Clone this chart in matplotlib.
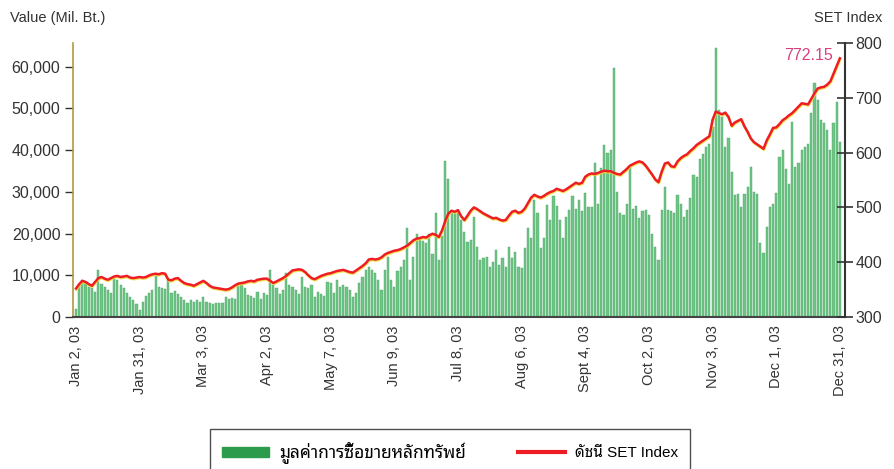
import numpy as np
import matplotlib
matplotlib.use("Agg")
import matplotlib.pyplot as plt
import matplotlib.patheffects as pe
import matplotlib.transforms as mtransforms
from matplotlib.patches import Patch
from matplotlib.lines import Line2D
from matplotlib.ticker import FuncFormatter, FixedLocator

# ---- data (daily, 2003) ----
tick_labels = ["Jan 2, 03", "Jan 31, 03", "Mar 3, 03", "Apr 2, 03", "May 7, 03",
               "Jun 9, 03", "Jul 8, 03", "Aug 6, 03", "Sept 4, 03", "Oct 2, 03",
               "Nov 3, 03", "Dec 1, 03", "Dec 31, 03"]

# trading value, Mil. Bt.
value = [
    2000, 7700, 8900, 8300, 7300, 6900, 6100, 11300, 8000, 7300,
    6500, 5800, 9300, 8800, 7600, 6900, 5700, 4900, 4100, 3000,
    1700, 3500, 5000, 5800, 6500, 10000, 7200, 6900, 6600, 8900,
    5700, 6300, 5400, 4900, 4100, 3300, 4100, 3700, 4000, 3600,
    4900, 3500, 3300, 3200, 3400, 3300, 3400, 4900, 4400, 4600,
    4300, 7700, 8100, 7000, 5300, 5000, 4600, 5900, 4400, 5800,
    5300, 11300, 7700, 7000, 5500, 6500, 10500, 7700, 7300, 6500,
    5500, 9700, 7300, 7000, 7700, 4700, 6000, 5500, 5000, 8500,
    8100, 5700, 8900, 7300, 7700, 7100, 6400, 4900, 5700, 8100,
    9700, 11300, 12000, 11300, 10500, 8900, 6500, 11300, 14500, 8900,
    7300, 11000, 12000, 13700, 21300, 8900, 14500, 20000, 18600, 18200,
    17800, 20000, 15200, 25000, 13700, 19500, 37500, 33000, 25000, 25000,
    25700, 23300, 20500, 17900, 18500, 24000, 16700, 13700, 14200, 14500,
    12000, 13200, 16000, 12500, 14200, 12000, 16900, 14200, 15500, 12000,
    11700, 16500, 21300, 18900, 28000, 25000, 16500, 18900, 26800, 23300,
    28900, 26500, 23300, 19000, 24000, 25600, 28900, 26000, 28000, 25500,
    29700, 26400, 26400, 36900, 27000, 35700, 41200, 39300, 40000, 59600,
    30000, 25000, 24500, 27000, 36000, 26000, 26500, 23800, 25500, 25600,
    24500, 20000, 16900, 13700, 25700, 31200, 25700, 25400, 25000, 29300,
    27000, 24000, 25700, 28500, 34000, 33500, 38000, 39000, 40800, 41600,
    45600, 64400, 49600, 48000, 40800, 43000, 34800, 29300, 29500, 26400,
    29500, 31200, 36000, 30000, 29500, 17700, 15300, 21600, 26400, 27000,
    29700, 38400, 40000, 35500, 32000, 46800, 36000, 37000, 40000, 40800,
    41500, 48900, 56000, 52000, 47200, 46500, 44800, 40000, 46500, 51600,
    42000,
]

# SET Index
set_index = [
    352, 360, 366, 364, 360, 357, 364, 371, 373, 370,
    368, 371, 374, 375, 373, 374, 375, 372, 371, 372,
    373, 372, 373, 376, 378, 379, 378, 380, 379, 368,
    367, 370, 371, 366, 362, 360, 359, 357, 360, 363,
    366, 362, 357, 354, 353, 352, 351, 350, 351, 354,
    358, 361, 362, 363, 365, 366, 365, 368, 369, 370,
    370, 366, 362, 365, 368, 371, 375, 380, 385, 386,
    387, 386, 382, 376, 371, 369, 372, 375, 377, 379,
    380, 382, 384, 385, 386, 384, 382, 381, 385, 389,
    393, 398, 405, 406, 405, 406, 409, 414, 417, 419,
    421, 422, 424, 427, 430, 435, 440, 443, 444, 446,
    445, 449, 452, 450, 446, 458, 475, 489, 494, 492,
    495, 484, 477, 485, 494, 500, 497, 493, 489, 486,
    483, 480, 481, 478, 476, 477, 485, 492, 494, 490,
    492, 498, 508, 518, 523, 520, 518, 521, 525, 528,
    530, 534, 532, 530, 533, 537, 541, 545, 543, 545,
    556, 560, 562, 561, 563, 565, 567, 566, 566, 563,
    561, 560, 565, 570, 576, 579, 582, 584, 582, 576,
    568, 560, 551, 546, 565, 580, 582, 575, 574, 584,
    590, 594, 597, 603, 608, 614, 618, 622, 626, 630,
    660, 675, 672, 670, 673, 665, 649, 655, 658, 661,
    648, 638, 626, 619, 615, 611, 607, 622, 633, 645,
    646, 652, 659, 663, 668, 672, 678, 684, 690, 689,
    688, 698, 708, 717, 719, 720, 724, 730, 744, 758,
    772.15,
]

plt.rcParams["font.family"] = ["Liberation Sans", "Noto Sans Thai Looped", "DejaVu Sans"]

x = np.arange(len(value))

fig = plt.figure(figsize=(8.94, 4.69), dpi=100)
ax = fig.add_axes([73 / 894, 152 / 469, 772 / 894, 274 / 469])

ax.bar(x, value, width=0.68, color="#6fc585", edgecolor="#4aa468", linewidth=0.3, zorder=2)
ax.set_xlim(-0.95, 241.6)
ax.set_ylim(0, 65700)
ax.yaxis.set_major_locator(FixedLocator(np.arange(0, 60001, 10000)))
ax.yaxis.set_major_formatter(FuncFormatter(lambda v, p: f"{int(v):,}"))
ax.set_xticks(np.arange(0, 241, 20))
ax.set_xticklabels(tick_labels, rotation=90, fontsize=10.5, color="#333333")
shift = mtransforms.ScaledTranslation(5 / 100, 0, fig.dpi_scale_trans)
for lab in ax.get_xticklabels():
    lab.set_transform(lab.get_transform() + shift)
ax.tick_params(axis="x", length=0, pad=6)
ax.tick_params(axis="y", length=6, width=1, colors="#333333", labelsize=11.5, pad=3)
ax.spines["top"].set_visible(False)
ax.spines["right"].set_visible(False)
ax.spines["left"].set_color("#b09a40")
ax.spines["left"].set_linewidth(1.2)
ax.spines["bottom"].set_color("#444444")
ax.spines["bottom"].set_linewidth(1.5)

ax2 = ax.twinx()
ax2.plot(x, set_index, color="#ee1c24", lw=1.8, zorder=3,
         path_effects=[pe.SimpleLineShadow(offset=(0.3, -0.8), shadow_color="#f0dc3c", alpha=0.9),
                       pe.Normal()])
ax2.set_ylim(300, 800)
ax2.set_yticks(np.arange(300, 801, 100))
ax2.tick_params(axis="y", direction="inout", length=11, width=1.2, colors="#333333",
                labelsize=11.5, pad=2)
for s in ["top", "left", "bottom"]:
    ax2.spines[s].set_visible(False)
ax2.spines["right"].set_color("#333333")
ax2.spines["right"].set_linewidth(1.5)

ax2.annotate(f"{set_index[-1]:.2f}", xy=(x[-1], set_index[-1]), xytext=(-5, 2),
             textcoords="offset points", ha="right", va="center",
             color="#d8407f", fontsize=11.5)

fig.text(10 / 894, 1 - 18 / 469, "Value (Mil. Bt.)", fontsize=10.5, color="#333333",
         ha="left", va="center")
fig.text(882 / 894, 1 - 18 / 469, "SET Index", fontsize=10.5, color="#333333",
         ha="right", va="center")

handles = [Patch(facecolor="#2c9c4c", edgecolor="#2c9c4c"),
           Line2D([0], [0], color="#ee1c24", lw=3)]
labels = ["มูลค่าการซื้อขายหลักทรัพย์", "ดัชนี SET Index"]
leg = fig.legend(handles, labels, loc="center", bbox_to_anchor=(450 / 894, 1 - 452 / 469),
                 ncol=2, frameon=True, fancybox=False, edgecolor="#222222", fontsize=10.5,
                 handlelength=3.2, handletextpad=0.7, columnspacing=3.6, borderpad=0.8)
leg.get_texts()[0].set_fontsize(12.5)
leg.get_texts()[1].set_fontsize(11)

fig.savefig("out.png", dpi=100)
